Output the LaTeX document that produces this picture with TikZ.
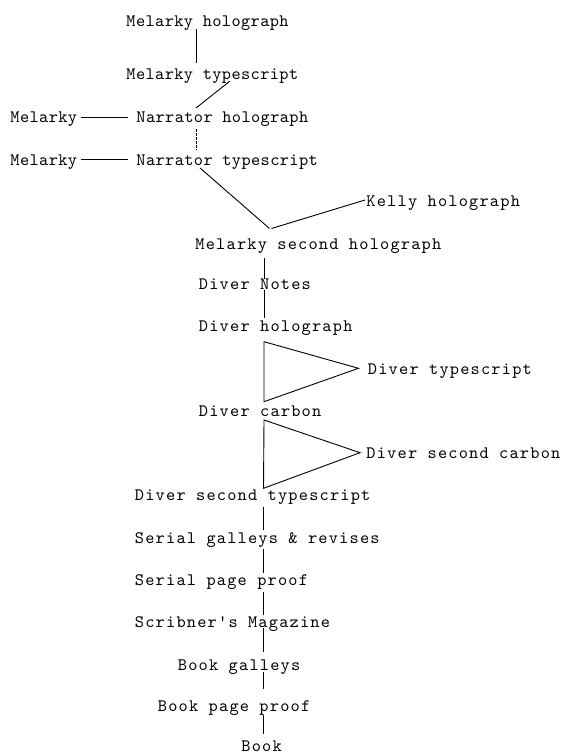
\documentclass[tikz,border=0pt]{standalone}
\usepackage{fontspec}
% typewriter face, two letter pitches
\newfontfamily\twnarrow{lmmono10-regular.otf}[LetterSpace=2.3]
\newfontfamily\twwide{lmmono10-regular.otf}[LetterSpace=6.9]
\begin{document}
\begin{tikzpicture}[x=1bp,y=-1bp,
  every path/.style={line width=0.9bp},
  lbl/.style={anchor=base west, inner sep=0pt,
    font=\fontsize{17.5bp}{20bp}\twnarrow},
  lblw/.style={anchor=base west, inner sep=0pt,
    font=\fontsize{17.5bp}{20bp}\twwide}]
\useasboundingbox (0,0) rectangle (565,755);

% --- early drafts ---
\node[lbl]  (mh)  at (126,27)    {Melarky holograph};
\node[lbl]  (mt)  at (126,79)    {Melarky typescript};
\node[lbl]  (m1)  at (10,122.5)  {Melarky};
\node[lbl]  (nh)  at (136,122.5) {Narrator holograph};
\node[lbl]  (m2)  at (10,165)    {Melarky};
\node[lbl]  (nt)  at (136,165)   {Narrator typescript};
\node[lblw] (kh)  at (366,206.5) {Kelly holograph};
\node[lblw] (msh) at (195,249)   {Melarky second holograph};

% --- Diver material ---
\node[lblw] (dn)  at (198.5,289.5) {Diver Notes};
\node[lblw] (dh)  at (198.5,331.5) {Diver holograph};
\node[lblw] (dt)  at (367.5,374)   {Diver typescript};
\node[lblw] (dc)  at (198.5,416.5) {Diver carbon};
\node[lblw] (dsc) at (366,458.5)   {Diver second carbon};
\node[lblw] (dst) at (134.5,500.5) {Diver second typescript};

% --- printing stages ---
\node[lblw] (sg) at (134.5,543)   {Serial galleys \& revises};
\node[lblw] (sp) at (134.5,585.5) {Serial page proof};
\node[lblw] (sm) at (134.5,627.5) {Scribner's Magazine};
\node[lblw] (bg) at (177.5,670)   {Book galleys};
\node[lblw] (bp) at (157.5,711)   {Book page proof};
\node[lblw] (bk) at (241,751.5)   {Book};

\coordinate (j) at (269.5,228.5);

% connectors between the early drafts
\draw ([shift={(70,2.5)}]mh.base west) -- ([shift={(70,-15.5)}]mt.base west);
\draw ([shift={(104,2)}]mt.base west) -- ([shift={(60,-14.5)}]nh.base west);
\draw[dash pattern=on 3bp off 1bp] ([shift={(60,6)}]nh.base west) -- ([shift={(60,-15)}]nt.base west);
\draw ([shift={(71,-5)}]m1.base west) -- ([shift={(-8,-5)}]nh.base west);
\draw ([shift={(71,-6)}]m2.base west) -- ([shift={(-8,-6)}]nt.base west);
\draw ([shift={(64,3)}]nt.base west) -- (j);
\draw ([shift={(-1,-6.5)}]kh.base west) -- ([xshift=2]j);

% Diver stem
\draw ([shift={(69.3,9.3)}]msh.base west) -- ([shift={(65.8,-11)}]dn.base west);
\draw ([shift={(65.8,0)}]dn.base west) -- ([shift={(65.8,-13.2)}]dh.base west);

% typescript / carbon triangles
\draw ([shift={(-9,-5.7)}]dt.base west) -- ([shift={(65.5,10.2)}]dh.base west)
      -- ([shift={(65.5,-14.8)}]dc.base west) -- cycle;
\draw ([shift={(-6,-5.8)}]dsc.base west) -- ([shift={(65.5,3.5)}]dc.base west)
      -- ([shift={(129,-12.2)}]dst.base west) -- cycle;

% printing stem
\draw ([shift={(129,6)}]dst.base west) -- ([shift={(129,-13)}]sg.base west);
\draw ([shift={(129,6)}]sg.base west) -- ([shift={(129,-13)}]sp.base west);
\draw ([shift={(129,6)}]sp.base west) -- ([shift={(129,-13)}]sm.base west);
\draw ([shift={(129,0)}]sm.base west) -- ([shift={(86,-18)}]bg.base west);
\draw ([shift={(86,2)}]bg.base west) -- ([shift={(106,-22)}]bp.base west);
\draw ([shift={(106,4)}]bp.base west) -- ([shift={(22.5,-17.5)}]bk.base west);
\end{tikzpicture}
\end{document}
